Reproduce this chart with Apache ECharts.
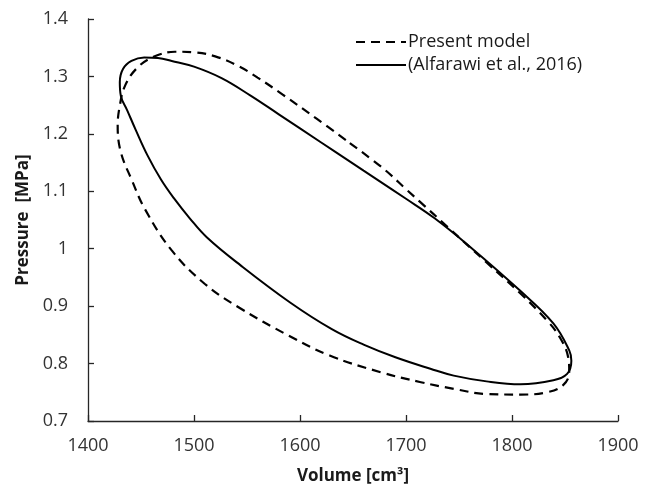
<!DOCTYPE html>
<html>
<head>
<meta charset="utf-8">
<script src="https://cdn.jsdelivr.net/npm/echarts@6/dist/echarts.min.js"></script>
<style>html,body{margin:0;padding:0;background:#fff}#c{width:656px;height:493px}</style>
</head>
<body>
<div id="c"></div>
<script>
// Volume [cm3], Pressure [MPa] — closed loops
const presentModel = [
  [1647,1.184],[1679,1.139],[1701,1.102],[1713,1.082],[1738,1.040],[1776,0.976],
  [1808,0.922],[1833,0.875],[1845,0.846],[1853,0.811],[1854,0.785],[1848,0.762],
  [1833,0.750],[1808,0.746],[1776,0.747],[1745,0.756],[1713,0.768],[1676,0.785],
  [1628,0.814],[1589,0.849],[1542,0.898],[1510,0.939],[1479,0.997],[1454,1.068],
  [1441,1.121],[1431,1.168],[1428,1.214],[1430,1.249],[1435,1.284],[1447,1.316],
  [1463,1.335],[1482,1.343],[1500,1.342],[1520,1.335],[1542,1.318],[1560,1.298],
  [1584,1.268],[1616,1.226],[1647,1.184]
];
const alfarawi = [
  [1660,1.136],[1700,1.087],[1727,1.053],[1760,1.004],[1807,0.928],[1839,0.870],
  [1854,0.823],[1856,0.805],[1852,0.782],[1839,0.771],[1808,0.764],[1776,0.769],
  [1745,0.779],[1723,0.791],[1690,0.811],[1660,0.833],[1630,0.860],[1591,0.906],
  [1544,0.971],[1512,1.020],[1496,1.053],[1481,1.088],[1469,1.120],[1456,1.163],
  [1445,1.207],[1437,1.241],[1431,1.266],[1430,1.290],[1433,1.313],[1441,1.327],
  [1453,1.333],[1466,1.332],[1479,1.327],[1500,1.317],[1526,1.297],[1553,1.267],
  [1580,1.234],[1620,1.185],[1660,1.136]
];
const seriesNames = ['Present model', '(Alfarawi et al., 2016)'];
const xTicks = {min:1400, max:1900, interval:100};
const yTicks = {min:0.7, max:1.4, interval:0.1};

const FONT = '"Open Sans", "Noto Sans", sans-serif';
const chart = echarts.init(document.getElementById('c'), null, {renderer:'canvas'});
const axisCommon = {
  axisLine:{show:true, onZero:false, lineStyle:{color:'#262626', width:1.3}},
  axisTick:{show:true, inside:true, length:6, lineStyle:{color:'#262626', width:1.3}},
  splitLine:{show:false},
  axisLabel:{color:'#333', fontFamily:FONT, fontSize:18},
  nameLocation:'middle',
  nameTextStyle:{color:'#1a1a1a', fontFamily:FONT, fontSize:17, fontWeight:'bold'}
};
chart.setOption({
  animation:false,
  backgroundColor:'#fff',
  grid:{left:88, right:38, top:19, bottom:72, containLabel:false},
  xAxis:Object.assign({}, axisCommon, {
    type:'value', min:xTicks.min, max:xTicks.max, interval:xTicks.interval,
    name:'Volume [cm³]', nameGap:47,
    axisLabel:Object.assign({}, axisCommon.axisLabel, {margin:16, formatter:v => String(v)})
  }),
  yAxis:Object.assign({}, axisCommon, {
    type:'value', min:yTicks.min, max:yTicks.max, interval:yTicks.interval,
    name:'Pressure  [MPa]', nameGap:55,
    axisLabel:Object.assign({}, axisCommon.axisLabel, {margin:20})
  }),
  legend:{
    show:true, orient:'vertical', left:350, top:28, itemGap:5,
    itemWidth:50, itemHeight:16,
    itemStyle:{opacity:0, borderWidth:0},
    textStyle:{color:'#1a1a1a', fontFamily:FONT, fontSize:18, padding:[0,0,0,-3]},
    data:seriesNames
  },
  series:[
    {name:seriesNames[0], type:'line', data:presentModel, smooth:0.4, symbol:'none',
     lineStyle:{color:'#000', width:2.2, type:[9,6]}, itemStyle:{color:'#000'}},
    {name:seriesNames[1], type:'line', data:alfarawi, smooth:0.4, symbol:'none',
     lineStyle:{color:'#000', width:2, type:'solid'}, itemStyle:{color:'#000'}}
  ]
});
</script>
</body>
</html>
